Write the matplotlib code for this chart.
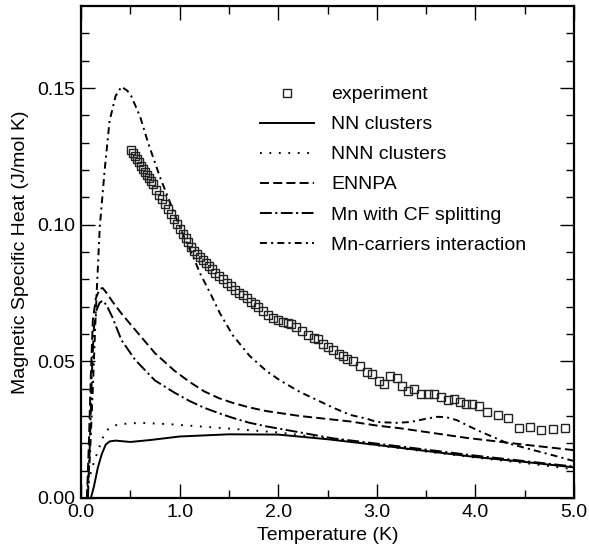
import matplotlib
matplotlib.use('Agg')
import matplotlib.pyplot as plt
import numpy as np

plt.rcParams['font.family'] = ['Liberation Sans', 'DejaVu Sans']
plt.rcParams['lines.scale_dashes'] = False

# experiment
T_exp = [0.51, 0.53, 0.55, 0.57, 0.59, 0.61, 0.63, 0.65, 0.67, 0.69, 0.71, 0.73,
         0.76, 0.79, 0.82, 0.85, 0.88, 0.91, 0.94, 0.97, 1.00, 1.03, 1.06, 1.09,
         1.12, 1.15, 1.18, 1.21, 1.24, 1.27, 1.30, 1.33, 1.36, 1.40, 1.44, 1.48,
         1.52, 1.56, 1.60, 1.64, 1.68, 1.72, 1.76, 1.80, 1.85, 1.90, 1.95, 2.00,
         2.05, 2.10, 2.13, 2.18, 2.24, 2.30, 2.36, 2.40, 2.45, 2.50, 2.56, 2.62,
         2.66, 2.70, 2.76, 2.83, 2.90, 2.95, 3.02, 3.07, 3.13, 3.20, 3.26, 3.32,
         3.38, 3.45, 3.52, 3.58, 3.65, 3.72, 3.78, 3.84, 3.90, 3.97, 4.04, 4.12,
         4.23, 4.33, 4.44, 4.55, 4.67, 4.79, 4.91]
C_exp = [0.1273, 0.1262, 0.1250, 0.1240, 0.1228, 0.1215, 0.1205, 0.1192, 0.1182,
         0.1170, 0.1158, 0.1147, 0.1128, 0.1110, 0.1093, 0.1075, 0.1058, 0.1040,
         0.1022, 0.1003, 0.0985, 0.0965, 0.0950, 0.0935, 0.0918, 0.0905, 0.0892,
         0.0880, 0.0872, 0.0860, 0.0850, 0.0838, 0.0825, 0.0812, 0.0800, 0.0787,
         0.0775, 0.0762, 0.0750, 0.0741, 0.0730, 0.0718, 0.0710, 0.0698, 0.0684,
         0.0670, 0.0660, 0.0650, 0.0645, 0.0640, 0.0636, 0.0625, 0.0612, 0.0598,
         0.0585, 0.0582, 0.0565, 0.0553, 0.0542, 0.0527, 0.0520, 0.0508, 0.0500,
         0.0482, 0.0462, 0.0452, 0.0428, 0.0418, 0.0448, 0.0440, 0.0410, 0.0390,
         0.0398, 0.0380, 0.0382, 0.0380, 0.0370, 0.0360, 0.0362, 0.0350, 0.0345,
         0.0345, 0.0338, 0.0315, 0.0305, 0.0293, 0.0257, 0.0261, 0.0250, 0.0252,
         0.0256]

# NN clusters
T_nn = [0.10, 0.13, 0.17, 0.21, 0.25, 0.29, 0.35, 0.50, 0.70, 1.00, 1.50, 2.00,
        2.50, 3.00, 3.50, 4.00, 4.50, 5.00]
C_nn = [0.0, 0.004, 0.011, 0.016, 0.0195, 0.0207, 0.021, 0.0205, 0.0212, 0.0225,
        0.0233, 0.0232, 0.0215, 0.0194, 0.0172, 0.0150, 0.0132, 0.0112]

# NNN clusters
T_nnn = [0.06, 0.09, 0.13, 0.17, 0.22, 0.28, 0.38, 0.60, 0.90, 1.20, 1.50, 2.00,
         2.50, 3.00, 3.50, 4.00, 4.50, 5.00]
C_nnn = [0.002, 0.008, 0.013, 0.017, 0.022, 0.0255, 0.027, 0.0275, 0.027, 0.0262,
         0.0254, 0.024, 0.0218, 0.0193, 0.017, 0.0148, 0.0128, 0.0105]

# ENNPA
T_ennpa = [0.06, 0.08, 0.10, 0.12, 0.15, 0.19, 0.22, 0.26, 0.32, 0.41, 0.55, 0.75,
           0.95, 1.10, 1.25, 1.40, 1.54, 1.70, 1.88, 2.22, 2.73, 3.00, 3.24, 3.91,
           4.50, 5.00]
C_ennpa = [0.0, 0.02, 0.045, 0.065, 0.073, 0.0765, 0.0768, 0.075, 0.0718, 0.0675,
           0.0615, 0.053, 0.0465, 0.0425, 0.0390, 0.0365, 0.0348, 0.0332, 0.0318,
           0.0300, 0.028, 0.0265, 0.0255, 0.022, 0.0195, 0.0175]

# Mn with CF splitting
T_cf = [0.07, 0.09, 0.11, 0.13, 0.16, 0.19, 0.22, 0.26, 0.32, 0.41, 0.55, 0.75,
        0.95, 1.10, 1.25, 1.40, 1.54, 1.70, 1.88, 2.22, 2.56, 3.00, 3.50, 4.00,
        4.50, 5.00]
C_cf = [0.0, 0.02, 0.045, 0.062, 0.069, 0.0715, 0.0722, 0.0705, 0.066, 0.0578,
        0.0505, 0.043, 0.0385, 0.0355, 0.0330, 0.0310, 0.0293, 0.0276, 0.0262,
        0.024, 0.0218, 0.0199, 0.0177, 0.0155, 0.0135, 0.0115]

# Mn-carriers interaction
T_car = [0.06, 0.09, 0.12, 0.15, 0.19, 0.24, 0.29, 0.35, 0.41, 0.47, 0.51, 0.60,
         0.68, 0.80, 0.97, 1.04, 1.14, 1.21, 1.31, 1.41, 1.54, 1.71, 1.88, 2.02,
         2.22, 2.39, 2.56, 2.73, 2.90, 3.00, 3.20, 3.34, 3.50, 3.61, 3.70, 3.81,
         3.95, 4.05, 4.20, 4.32, 4.58, 4.80, 5.00]
C_car = [0.0, 0.015, 0.04, 0.068, 0.099, 0.12, 0.138, 0.147, 0.1505, 0.149, 0.147,
         0.1395, 0.130, 0.1175, 0.102, 0.096, 0.088, 0.082, 0.075, 0.0675, 0.0595,
         0.052, 0.0465, 0.043, 0.0388, 0.0359, 0.033, 0.0304, 0.029, 0.0278,
         0.0275, 0.0278, 0.029, 0.0297, 0.0296, 0.0285, 0.026, 0.0243, 0.022,
         0.0201, 0.0176, 0.0155, 0.0135]

fig = plt.figure(figsize=(5.89, 5.5), dpi=100)
ax = fig.add_axes([81/589, 52/550, 493/589, 492/550])

lw = 1.4
ax.plot(T_nn, C_nn, color='black', lw=lw, label='NN clusters')
ax.plot(T_nnn, C_nnn, color='black', lw=lw, linestyle=(0, (1.3, 5.5)), label='NNN clusters')
ax.plot(T_ennpa, C_ennpa, color='black', lw=lw, linestyle=(0, (6.5, 3.0)), label='ENNPA')
ax.plot(T_cf, C_cf, color='black', lw=lw, linestyle=(0, (8.5, 2.5, 1.5, 2.5)),
        label='Mn with CF splitting')
ax.plot(T_car, C_car, color='black', lw=lw, linestyle=(0, (5.0, 3.0, 1.5, 3.0)),
        label='Mn-carriers interaction')
ax.plot(T_exp, C_exp, linestyle='none', marker='s', markersize=5.8,
        markerfacecolor='none', markeredgecolor='#222222', markeredgewidth=1.0,
        label='experiment')

ax.set_xlim(0, 5.0)
ax.set_ylim(0, 0.18)
ax.set_xticks(np.arange(0, 5.01, 1.0))
ax.set_xticks(np.arange(0.5, 5.0, 1.0), minor=True)
ax.set_xticklabels(['%.1f' % v for v in np.arange(0, 5.01, 1.0)])
ax.set_yticks([0.0, 0.05, 0.10, 0.15])
ax.set_yticks([0.01, 0.02, 0.03, 0.04, 0.06, 0.07, 0.08, 0.09, 0.11, 0.12, 0.13,
               0.14, 0.16, 0.17], minor=True)
ax.set_yticklabels(['0.00', '0.05', '0.10', '0.15'])

ax.tick_params(which='both', direction='in', top=True, right=True, width=1.0,
               labelsize=14, pad=4)
ax.tick_params(which='major', length=10)
ax.tick_params(which='minor', length=6)
for s in ax.spines.values():
    s.set_linewidth(1.6)

ax.set_xlabel('Temperature (K)', fontsize=14, labelpad=5)
ax.set_ylabel('Magnetic Specific Heat (J/mol K)', fontsize=14, labelpad=6)

h, l = ax.get_legend_handles_labels()
order = [5, 0, 1, 2, 3, 4]
ax.legend([h[i] for i in order], [l[i] for i in order], loc='upper left',
          bbox_to_anchor=(0.363, 0.838), frameon=False, fontsize=14,
          handlelength=2.8, handletextpad=0.85, labelspacing=0.64,
          borderpad=0, borderaxespad=0, numpoints=1)

fig.savefig('out.png', dpi=100)
